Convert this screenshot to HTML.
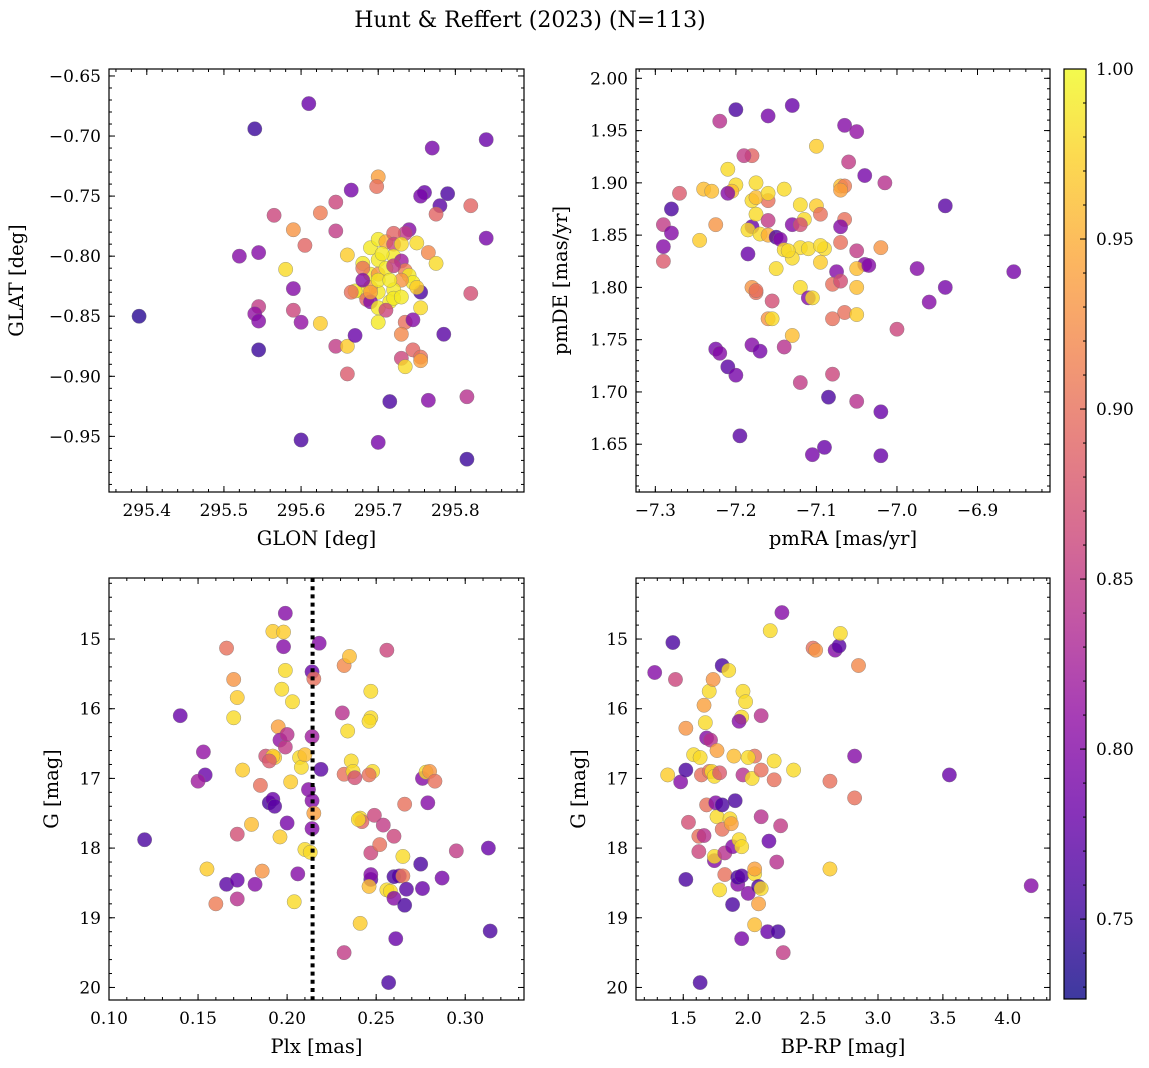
<!DOCTYPE html>
<html><head><meta charset="utf-8">
<style>
html,body{margin:0;padding:0;background:#fff;}
svg{display:block;font-family:"DejaVu Serif","Liberation Serif",serif;}
</style></head>
<body>
<svg id="fig" width="1149" height="1068" viewBox="0 0 1149 1068" xmlns="http://www.w3.org/2000/svg">
<text x="530" y="27" font-size="22" text-anchor="middle">Hunt &amp; Reffert (2023) (N=113)</text>
</svg>
<script>
// ---------- DATA ----------
const p1Glon=[295.39,295.54,295.61,295.77,295.84,295.84,295.79,295.76,295.755,295.78,295.775,295.82,295.52,295.565,295.545,295.59,295.605,295.625,295.645,295.665,295.70,295.698,295.58,295.545,295.54,295.545,295.545,295.59,295.60,295.59,295.625,295.645,295.66,295.66,295.645,295.66,295.67,295.60,295.70,295.715,295.765,295.815,295.815,295.82,295.785,295.765,295.775,295.755,295.755,295.735,295.745,295.73,295.745,295.755,295.755,295.735,295.73,295.74,295.735,295.75,295.69,295.70,295.71,295.72,295.72,295.70,295.68,295.69,295.68,295.70,295.71,295.72,295.73,295.735,295.74,295.745,295.75,295.73,295.72,295.70,295.69,295.68,295.67,295.665,295.685,295.69,295.70,295.715,295.72,295.73,295.70,295.71,295.68,295.70,295.715,295.72,295.73,295.705,295.69];
const p1Glat=[-0.850,-0.694,-0.673,-0.710,-0.703,-0.785,-0.748,-0.747,-0.750,-0.758,-0.765,-0.758,-0.800,-0.766,-0.797,-0.778,-0.791,-0.764,-0.755,-0.745,-0.734,-0.742,-0.811,-0.842,-0.848,-0.854,-0.878,-0.845,-0.855,-0.827,-0.856,-0.875,-0.875,-0.898,-0.779,-0.799,-0.866,-0.953,-0.955,-0.921,-0.920,-0.917,-0.969,-0.831,-0.865,-0.797,-0.806,-0.830,-0.843,-0.855,-0.853,-0.885,-0.878,-0.884,-0.887,-0.892,-0.865,-0.778,-0.781,-0.789,-0.793,-0.786,-0.788,-0.781,-0.790,-0.803,-0.806,-0.815,-0.810,-0.815,-0.810,-0.800,-0.804,-0.812,-0.816,-0.822,-0.826,-0.820,-0.828,-0.830,-0.826,-0.830,-0.829,-0.830,-0.836,-0.838,-0.843,-0.838,-0.835,-0.834,-0.855,-0.845,-0.820,-0.820,-0.820,-0.808,-0.790,-0.798,-0.830];
const p1Prob=[0.74,0.75,0.78,0.79,0.78,0.79,0.76,0.78,0.79,0.77,0.89,0.89,0.80,0.86,0.80,0.93,0.89,0.91,0.86,0.79,0.94,0.90,0.98,0.85,0.81,0.80,0.75,0.86,0.81,0.80,0.97,0.85,0.97,0.88,0.85,0.97,0.78,0.76,0.79,0.76,0.80,0.84,0.75,0.87,0.77,0.92,0.98,0.76,0.98,0.90,0.80,0.86,0.89,0.90,0.94,0.98,0.92,0.80,0.85,0.98,0.99,0.99,0.95,0.89,0.86,0.99,0.99,0.99,0.90,0.93,0.99,0.99,0.82,0.91,0.99,0.99,0.97,0.93,0.99,0.99,0.94,0.99,0.99,0.90,0.89,0.80,0.99,0.99,0.99,0.99,0.99,0.86,0.80,0.99,0.99,0.85,0.98,0.99,0.94];

const p2PmRA=[-7.20,-7.13,-7.16,-7.22,-7.065,-7.05,-7.10,-7.06,-7.04,-7.015,-7.18,-7.19,-7.27,-7.28,-7.29,-7.28,-7.29,-7.29,-7.245,-7.24,-7.23,-7.21,-7.20,-7.205,-7.21,-7.225,-7.16,-7.18,-7.175,-7.16,-7.175,-7.14,-7.18,-7.185,-7.175,-7.17,-7.185,-7.16,-7.15,-7.145,-7.16,-7.13,-7.12,-7.115,-7.12,-7.10,-7.095,-7.14,-7.12,-7.11,-7.09,-7.095,-7.07,-7.065,-7.07,-7.065,-7.07,-7.05,-7.07,-7.04,-7.05,-7.02,-7.075,-7.08,-7.07,-7.095,-7.13,-7.15,-7.135,-7.12,-7.11,-7.105,-7.05,-7.175,-7.18,-7.175,-7.155,-7.16,-7.155,-7.13,-7.065,-7.05,-7.08,-7.00,-6.96,-6.94,-6.975,-6.94,-6.855,-7.225,-7.22,-7.21,-7.20,-7.18,-7.17,-7.14,-7.12,-7.08,-7.085,-7.05,-7.02,-7.195,-7.09,-7.105,-7.02,-7.035];
const p2PmDE=[1.970,1.974,1.964,1.959,1.955,1.949,1.935,1.920,1.907,1.900,1.926,1.926,1.890,1.875,1.860,1.852,1.839,1.825,1.845,1.894,1.892,1.913,1.898,1.892,1.890,1.860,1.883,1.883,1.886,1.890,1.900,1.894,1.858,1.855,1.870,1.851,1.832,1.850,1.848,1.846,1.864,1.860,1.879,1.865,1.860,1.878,1.870,1.836,1.838,1.837,1.837,1.840,1.897,1.897,1.893,1.865,1.858,1.835,1.843,1.822,1.818,1.838,1.815,1.803,1.806,1.824,1.828,1.818,1.835,1.800,1.790,1.790,1.800,1.795,1.800,1.797,1.787,1.770,1.770,1.754,1.776,1.774,1.770,1.760,1.786,1.800,1.818,1.878,1.815,1.741,1.737,1.724,1.716,1.745,1.739,1.743,1.709,1.717,1.695,1.691,1.681,1.658,1.647,1.640,1.639,1.821];
const p2Prob=[0.76,0.78,0.79,0.84,0.80,0.81,0.97,0.85,0.79,0.84,0.89,0.85,0.88,0.76,0.85,0.80,0.80,0.88,0.97,0.96,0.96,0.98,0.98,0.96,0.80,0.93,0.90,0.98,0.96,0.98,0.98,0.98,0.78,0.98,0.98,0.98,0.78,0.95,0.76,0.80,0.85,0.80,0.98,0.98,0.87,0.97,0.90,0.98,0.98,0.98,0.98,0.98,0.96,0.91,0.94,0.90,0.80,0.85,0.90,0.80,0.96,0.93,0.80,0.90,0.87,0.97,0.98,0.98,0.98,0.98,0.80,0.98,0.96,0.90,0.93,0.90,0.87,0.93,0.98,0.96,0.90,0.97,0.90,0.86,0.80,0.79,0.80,0.77,0.79,0.79,0.80,0.77,0.79,0.80,0.79,0.84,0.85,0.86,0.76,0.84,0.78,0.77,0.78,0.79,0.78,0.80];

const p3Plx=[0.12,0.14,0.153,0.154,0.15,0.155,0.16,0.166,0.166,0.17,0.172,0.17,0.175,0.172,0.172,0.172,0.18,0.182,0.185,0.186,0.188,0.19,0.192,0.193,0.196,0.192,0.192,0.198,0.195,0.197,0.196,0.198,0.199,0.199,0.200,0.193,0.19,0.199,0.200,0.202,0.203,0.204,0.206,0.207,0.208,0.21,0.213,0.21,0.212,0.214,0.215,0.214,0.214,0.215,0.214,0.218,0.219,0.232,0.231,0.232,0.235,0.234,0.236,0.237,0.238,0.241,0.242,0.24,0.247,0.246,0.247,0.248,0.246,0.249,0.247,0.247,0.247,0.246,0.254,0.252,0.256,0.232,0.241,0.256,0.258,0.257,0.261,0.263,0.26,0.26,0.26,0.266,0.265,0.265,0.266,0.267,0.275,0.276,0.276,0.278,0.279,0.28,0.283,0.287,0.295,0.313,0.314];
const p3G=[17.88,16.10,16.62,16.95,17.04,18.30,18.80,18.52,15.13,15.58,15.84,16.13,16.88,17.80,18.46,18.73,17.66,18.52,17.10,18.33,16.68,17.35,17.30,16.70,17.84,16.68,14.89,14.90,16.26,15.72,16.45,15.11,14.63,16.55,16.37,17.40,16.75,15.45,17.64,17.05,15.90,18.77,18.37,16.70,16.84,18.02,18.06,16.66,17.16,15.47,15.57,16.40,17.32,17.50,17.72,15.06,16.87,16.94,16.06,15.38,15.25,16.32,16.75,16.90,16.99,17.57,17.62,17.59,16.13,16.18,15.75,16.90,16.95,17.53,18.07,18.45,18.38,18.55,17.67,17.95,15.16,19.50,19.08,18.60,18.62,19.93,19.30,18.40,18.41,18.72,17.83,17.37,18.40,18.12,18.82,18.59,18.23,18.58,17.00,16.91,17.35,16.90,17.04,18.43,18.04,18.00,19.19];
const p3Prob=[0.76,0.78,0.81,0.78,0.82,0.97,0.91,0.77,0.90,0.93,0.97,0.98,0.97,0.87,0.78,0.84,0.96,0.80,0.90,0.93,0.87,0.76,0.78,0.97,0.97,0.97,0.97,0.97,0.94,0.98,0.81,0.80,0.80,0.85,0.84,0.77,0.88,0.98,0.79,0.97,0.98,0.98,0.80,0.98,0.98,0.98,0.98,0.96,0.80,0.78,0.90,0.82,0.80,0.94,0.80,0.80,0.77,0.90,0.84,0.92,0.96,0.98,0.98,0.98,0.87,0.98,0.89,0.98,0.98,0.98,0.98,0.98,0.90,0.86,0.86,0.77,0.80,0.96,0.85,0.90,0.86,0.85,0.97,0.98,0.98,0.76,0.78,0.79,0.76,0.80,0.86,0.90,0.91,0.98,0.76,0.77,0.76,0.78,0.80,0.98,0.80,0.93,0.90,0.79,0.85,0.78,0.76];

const p4Color=[1.28,1.38,1.42,1.44,1.48,1.52,1.52,1.52,1.54,1.58,1.63,1.63,1.62,1.66,1.62,1.64,1.66,1.67,1.68,1.71,1.68,1.70,1.70,1.72,1.73,1.74,1.76,1.74,1.74,1.76,1.75,1.78,1.78,1.80,1.80,1.80,1.82,1.82,1.85,1.86,1.87,1.88,1.88,1.89,1.90,1.92,1.92,1.95,1.95,1.93,1.95,1.95,1.93,1.96,1.98,1.96,2.00,2.03,2.05,2.05,2.05,2.08,2.08,2.10,2.10,2.10,2.10,2.05,2.15,2.16,2.17,2.20,2.20,2.22,2.23,2.25,2.26,2.27,2.35,2.50,2.52,2.63,2.63,2.67,2.70,2.71,2.82,2.82,2.85,3.55,4.18,2.00];
const p4G=[15.48,16.95,15.05,15.58,17.05,16.28,16.88,18.45,17.63,16.66,16.70,19.93,17.83,17.82,18.05,16.95,15.95,16.20,16.42,16.45,17.38,15.75,16.90,16.90,15.58,16.97,16.60,18.18,18.12,17.55,17.35,16.92,18.60,17.38,15.38,17.73,18.38,18.07,15.45,17.58,17.65,18.81,17.98,16.68,17.32,18.52,18.42,18.40,19.30,17.88,17.98,16.12,16.18,15.75,15.90,16.95,18.65,17.00,18.37,18.30,16.68,18.55,18.80,16.10,16.88,17.55,18.58,19.10,19.20,17.90,14.88,16.75,17.02,18.20,19.20,17.68,14.62,19.50,16.88,15.13,15.16,17.04,18.30,15.16,15.10,14.92,16.68,17.28,15.38,16.95,18.54,16.70];
const p4Prob=[0.80,0.97,0.76,0.86,0.80,0.93,0.76,0.76,0.87,0.98,0.98,0.76,0.90,0.84,0.86,0.90,0.94,0.98,0.80,0.84,0.90,0.98,0.90,0.98,0.93,0.98,0.94,0.80,0.98,0.98,0.80,0.88,0.98,0.76,0.76,0.90,0.90,0.84,0.98,0.98,0.94,0.76,0.80,0.96,0.76,0.80,0.76,0.77,0.79,0.98,0.98,0.98,0.80,0.98,0.98,0.84,0.80,0.98,0.98,0.94,0.90,0.76,0.94,0.84,0.90,0.84,0.98,0.96,0.78,0.78,0.98,0.98,0.90,0.84,0.76,0.85,0.80,0.85,0.98,0.90,0.93,0.90,0.97,0.80,0.77,0.98,0.80,0.90,0.92,0.78,0.80,0.98];

const p1XTicks=[295.4,295.5,295.6,295.7,295.8];
const p1YTicks=[-0.65,-0.70,-0.75,-0.80,-0.85,-0.90,-0.95];
const p2XTicks=[-7.3,-7.2,-7.1,-7.0,-6.9];
const p2YTicks=[2.00,1.95,1.90,1.85,1.80,1.75,1.70,1.65];
const p3XTicks=[0.10,0.15,0.20,0.25,0.30];
const gTicks=[15,16,17,18,19,20];
const p4XTicks=[1.5,2.0,2.5,3.0,3.5,4.0];
const cbTicks=[0.75,0.80,0.85,0.90,0.95,1.00];
const plxRef=0.2143;

// ---------- RENDER ----------
const NS="http://www.w3.org/2000/svg";
const svg=document.getElementById('fig');
const VMIN=0.7265, VMAX=1.0;
const plasma=[[13,8,135],[65,4,157],[106,0,168],[143,13,164],[177,42,144],[204,71,120],[225,100,98],[242,132,75],[252,166,54],[252,206,37],[240,249,33]];
function cmap(v){let t=(v-VMIN)/(VMAX-VMIN);t=Math.max(0,Math.min(1,t));const f=t*10,i=Math.min(9,Math.floor(f)),r=f-i;const a=plasma[i],b=plasma[i+1];return 'rgb('+a.map((c,k)=>Math.round(c+(b[k]-c)*r)).join(',')+')';}
function mk(tag,attrs,parent){const e=document.createElementNS(NS,tag);for(const k in attrs)e.setAttribute(k,attrs[k]);(parent||svg).appendChild(e);return e;}
function fmt(v,d){let s=v.toFixed(d);if(v<0)s='\u2212'+s.slice(1);return s;}

function panel(o){
  const g=mk('g',{});
  
  
  const sx=v=>o.L+(v-o.x0)/(o.x1-o.x0)*(o.R-o.L);
  const sy=v=>o.B-(v-o.y0)/(o.y1-o.y0)*(o.B-o.T);
  for(let i=0;i<o.xs.length;i++){
    const c=mk('circle',{cx:sx(o.xs[i]),cy:sy(o.ys[i]),r:7.2,fill:cmap(o.ps[i]),'fill-opacity':0.8,stroke:'#777','stroke-width':0.5,'stroke-opacity':0.7},g);
    
    
  }
  if(o.vline!==undefined){
    const l=mk('line',{x1:sx(o.vline),x2:sx(o.vline),y1:o.T,y2:o.B,stroke:'#000','stroke-width':4,'stroke-dasharray':'4 4.2'},g);
    
    
  }
  const tk=mk('g',{stroke:'#000','stroke-width':1},g);
  
  
  const eps=1e-9;
  function range(a,b,st){const r=[];let s=Math.ceil((Math.min(a,b)-eps)/st);for(let k=s;k*st<=Math.max(a,b)+eps;k++)r.push(k*st);return r;}
  range(o.x0,o.x1,o.xMinor).forEach(v=>{const x=sx(v);mk('line',{x1:x,x2:x,y1:o.B,y2:o.B-3},tk);mk('line',{x1:x,x2:x,y1:o.T,y2:o.T+3},tk);});
  range(o.y0,o.y1,o.yMinor).forEach(v=>{const y=sy(v);mk('line',{x1:o.L,x2:o.L+3,y1:y,y2:y},tk);mk('line',{x1:o.R,x2:o.R-3,y1:y,y2:y},tk);});
  o.xt.forEach(v=>{const x=sx(v);mk('line',{x1:x,x2:x,y1:o.B,y2:o.B-6},tk);mk('line',{x1:x,x2:x,y1:o.T,y2:o.T+6},tk);
    const t=mk('text',{x:x,y:o.B+24,'font-size':17,'text-anchor':'middle'},g);t.textContent=fmt(v,o.xd);
    });
  o.yt.forEach(v=>{const y=sy(v);mk('line',{x1:o.L,x2:o.L+6,y1:y,y2:y},tk);mk('line',{x1:o.R,x2:o.R-6,y1:y,y2:y},tk);
    const t=mk('text',{x:o.L-8,y:y+6,'font-size':17,'text-anchor':'end'},g);t.textContent=fmt(v,o.yd);
    });
  const fr=mk('rect',{x:o.L,y:o.T,width:o.R-o.L,height:o.B-o.T,fill:'none',stroke:'#000','stroke-width':1.2},g);
  
  const xl=mk('text',{x:(o.L+o.R)/2,y:o.B+53,'font-size':19.5,'text-anchor':'middle'},g);xl.textContent=o.xlabel;
  
  const yl=mk('text',{x:0,y:0,'font-size':19.5,'text-anchor':'middle',transform:'translate('+o.ylx+','+((o.T+o.B)/2)+') rotate(-90)'},g);yl.textContent=o.ylabel;
  
}

panel({name:'glon-glat-panel',L:109,R:524,T:69,B:492,x0:295.351,x1:295.889,y0:-0.9963,y1:-0.6442,xs:p1Glon,ys:p1Glat,ps:p1Prob,xt:p1XTicks,yt:p1YTicks,xd:1,yd:2,xMinor:0.02,yMinor:0.01,xlabel:'GLON [deg]',ylabel:'GLAT [deg]',ylx:23});
panel({name:'proper-motion-panel',L:636,R:1050,T:69,B:492,x0:-7.324,x1:-6.810,y0:1.6043,y1:2.0089,xs:p2PmRA,ys:p2PmDE,ps:p2Prob,xt:p2XTicks,yt:p2YTicks,xd:1,yd:2,xMinor:0.02,yMinor:0.01,xlabel:'pmRA [mas/yr]',ylabel:'pmDE [mas/yr]',ylx:567});
panel({name:'plx-g-panel',L:109,R:524,T:578,B:1000,x0:0.10,x1:0.3330,y0:20.18,y1:14.124,xs:p3Plx,ys:p3G,ps:p3Prob,xt:p3XTicks,yt:gTicks,xd:2,yd:0,xMinor:0.01,yMinor:0.2,xlabel:'Plx [mas]',ylabel:'G [mag]',ylx:58,vline:plxRef});
panel({name:'cmd-panel',L:636,R:1050,T:578,B:1000,x0:1.136,x1:4.325,y0:20.18,y1:14.124,xs:p4Color,ys:p4G,ps:p4Prob,xt:p4XTicks,yt:gTicks,xd:1,yd:0,xMinor:0.1,yMinor:0.2,xlabel:'BP-RP [mag]',ylabel:'G [mag]',ylx:585});

(function(){
  const L=1064,R=1086,T=69,B=999;
  const g=mk('g',{});
  
  
  const defs=mk('defs',{},g);
  const lg=mk('linearGradient',{id:'cbg',x1:0,y1:1,x2:0,y2:0},defs);
  for(let i=0;i<=20;i++){const v=VMIN+(VMAX-VMIN)*i/20;mk('stop',{offset:(i/20),'stop-color':cmap(v)},lg);}
  mk('rect',{x:L,y:T,width:R-L,height:B-T,fill:'url(#cbg)','fill-opacity':0.8},g);
  const sy=v=>B-(v-VMIN)/(VMAX-VMIN)*(B-T);
  for(let k=73;k<=100;k++){const y=sy(k/100);mk('line',{x1:R,x2:R-3,y1:y,y2:y,stroke:'#000','stroke-width':1},g);}
  cbTicks.forEach(v=>{const y=sy(v);mk('line',{x1:R,x2:R-6,y1:y,y2:y,stroke:'#000','stroke-width':1},g);
    const t=mk('text',{x:R+10,y:y+6,'font-size':17},g);t.textContent=v.toFixed(2);
    });
  mk('rect',{x:L,y:T,width:R-L,height:B-T,fill:'none',stroke:'#000','stroke-width':1.2},g);
})();
</script>
</body></html>
